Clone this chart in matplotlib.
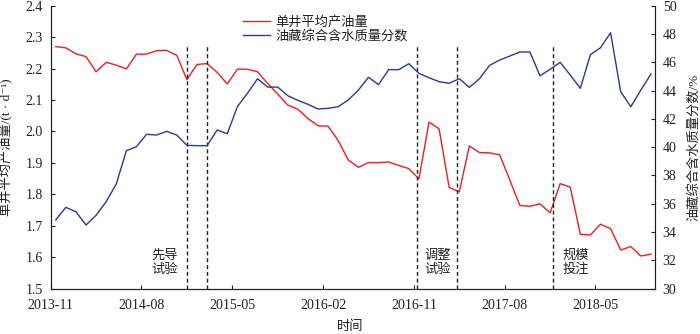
import matplotlib
matplotlib.use("Agg")
import matplotlib.pyplot as plt
import numpy as np

plt.rcParams['font.family'] = ['Liberation Serif', 'Noto Sans CJK SC', 'DejaVu Serif']
plt.rcParams['axes.unicode_minus'] = False

# ---- data (monthly, 2013-11 .. 2018-10) ----
month_index = list(range(60))
oil_rate = [2.270, 2.266, 2.247, 2.238, 2.190, 2.220, 2.211, 2.199, 2.246, 2.246,
            2.257, 2.258, 2.242, 2.165, 2.213, 2.216, 2.188, 2.151, 2.198, 2.198,
            2.190, 2.153, 2.119, 2.084, 2.071, 2.041, 2.018, 2.017, 1.971, 1.909,
            1.886, 1.901, 1.901, 1.903, 1.892, 1.882, 1.849, 2.030, 2.008, 1.822,
            1.808, 1.954, 1.933, 1.932, 1.926, 1.846, 1.765, 1.762, 1.770, 1.741,
            1.834, 1.823, 1.673, 1.671, 1.705, 1.691, 1.623, 1.634, 1.604, 1.610]
water_cut = [34.86, 35.75, 35.44, 34.50, 35.19, 36.15, 37.40, 39.75, 40.04, 40.91,
             40.86, 41.12, 40.86, 40.13, 40.11, 40.11, 41.22, 40.95, 42.86, 43.81,
             44.84, 44.25, 44.25, 43.64, 43.31, 43.03, 42.70, 42.75, 42.86, 43.34,
             44.04, 44.94, 44.42, 45.48, 45.48, 45.90, 45.22, 44.91, 44.63, 44.52,
             44.84, 44.23, 44.84, 45.78, 46.16, 46.44, 46.73, 46.73, 45.05, 45.50,
             46.00, 45.10, 44.16, 46.54, 47.03, 48.09, 43.92, 42.86, 44.04, 45.17]
tick_months = [0, 9, 18, 27, 36, 45, 54]
tick_labels = ['2013-11', '2014-08', '2015-05', '2016-02', '2016-11', '2017-08', '2018-05']
event_lines = [13.48, 15.46, 36.27, 40.24, 49.8]
event_labels = ['先导\n试验', '调整\n试验', '规模\n投注']
event_label_x = [11.33, 38.33, 52.0]

series1_name = '单井平均产油量'
series2_name = '油藏综合含水质量分数'

x = np.array(month_index) + 0.5

fig = plt.figure(figsize=(7.0, 3.34), dpi=100)
ax = fig.add_axes([50.7/700, 1-288.7/334, (655-50.7)/700, 283/334])
ax2 = ax.twinx()

red = '#e8211f'
blue = '#2b3a8e'
ink = '#231f20'
l1, = ax.plot(x, oil_rate, color=red, lw=1.0, label=series1_name)
l2, = ax2.plot(x, water_cut, color=blue, lw=1.0, label=series2_name)

for xv in event_lines:
    ax.axvline(xv, ymin=0, ymax=0.865, color='#222222', lw=1.0, dashes=(2.9, 2.0))

for lab, xv in zip(event_labels, event_label_x):
    ax.text(xv, 1.583, lab, ha='center', va='center', fontsize=9.5,
            color=ink, linespacing=1.08, family=['Noto Sans CJK SC'])

ax.set_xlim(0, 59.9)
ax.set_ylim(1.5, 2.4)
ax2.set_ylim(30, 50)
ax.set_yticks(np.round(np.arange(1.5, 2.41, 0.1), 1))
ax.set_yticklabels([f'{v:.1f}' for v in np.arange(1.5, 2.41, 0.1)])
ax2.set_yticks(np.arange(30, 51, 2))
ax.set_xticks(tick_months)
ax.set_xticklabels(tick_labels)

for a in (ax, ax2):
    a.spines['top'].set_visible(False)
    for s in a.spines.values():
        s.set_linewidth(0.8)
        s.set_color(ink)
ax.tick_params(axis='both', direction='in', length=3, width=0.8, labelsize=10,
               colors=ink)
ax.tick_params(axis='y', pad=5.5)
ax.tick_params(axis='x', pad=7.5)
ax2.tick_params(axis='y', direction='in', length=3, width=0.8, labelsize=10,
                colors=ink, pad=5.5)

ax.set_ylabel('单井平均产油量/(t · d⁻¹)', fontsize=9.5, color=ink)
ax.yaxis.set_label_coords(-0.062, 0.5)
ax2.set_ylabel('油藏综合含水质量分数/%', fontsize=9.5, color=ink)
ax2.yaxis.set_label_coords(1.053, 0.5)
ax.set_xlabel('时间', fontsize=9.5, color=ink)
ax.xaxis.set_label_coords(0.495, -0.113)

leg = ax2.legend([l1, l2], [series1_name, series2_name], loc='upper left',
                 bbox_to_anchor=(242.7/700, 1-15.5/334), bbox_transform=fig.transFigure,
                 frameon=False, fontsize=9.5, handlelength=2.1, handletextpad=0.4,
                 labelspacing=0.08, borderpad=0, borderaxespad=0)
for t in leg.get_texts():
    t.set_color(ink)

fig.savefig('out.png', dpi=100)
